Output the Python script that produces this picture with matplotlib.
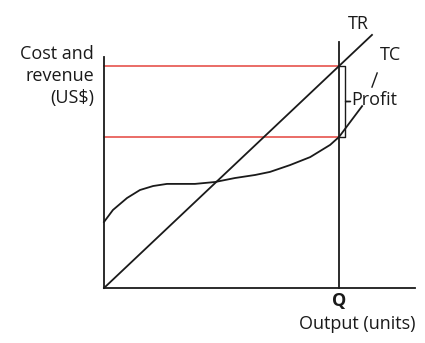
import matplotlib.pyplot as plt

# output (units) and total cost
tc_q = [0.00, 0.38, 0.98, 1.53, 2.09, 2.68, 3.23, 3.87, 4.72, 5.57, 6.43,
        7.06, 7.91, 8.77, 9.62, 10.00, 10.47, 10.98]
tc_cost = [2.81, 3.32, 3.83, 4.17, 4.34, 4.43, 4.43, 4.43, 4.51, 4.68, 4.81,
           4.94, 5.23, 5.57, 6.09, 6.43, 7.06, 7.74]

# total revenue is a straight line from the origin
tr_q = [0.0, 11.4]
tr_rev = [0.0, 10.77]

q_star = 10.0
tr_at_q = 9.45
tc_at_q = 6.43

plt.rcParams['font.family'] = ['Open Sans', 'DejaVu Sans']
ink = '#1a1a1a'
red = '#e8605a'
fs = 13

fig = plt.figure(figsize=(4.25, 3.43), dpi=100)
ax = fig.add_axes([104 / 425, 55 / 343, 311 / 425, 278 / 343])
ax.set_xlim(0, 13.23)
ax.set_ylim(0, 11.83)

for side in ['top', 'right']:
    ax.spines[side].set_visible(False)
ax.spines['left'].set_bounds(0, 9.83)
for side in ['left', 'bottom']:
    ax.spines[side].set_linewidth(1.3)
    ax.spines[side].set_color(ink)
ax.set_xticks([])
ax.set_yticks([])

# profit levels
ax.plot([0, q_star], [tr_at_q, tr_at_q], color=red, lw=1.3, clip_on=False)
ax.plot([0, q_star], [tc_at_q, tc_at_q], color=red, lw=1.3, clip_on=False)

ax.plot(tr_q, tr_rev, color=ink, lw=1.3, clip_on=False)
ax.plot(tc_q, tc_cost, color=ink, lw=1.3, clip_on=False, solid_joinstyle='round')

# vertical at Q
ax.plot([q_star, q_star], [0, 10.47], color=ink, lw=1.3, clip_on=False)

# profit brace
mid = (tr_at_q + tc_at_q) / 2
bx, tip = q_star + 0.26, q_star + 0.47
ax.plot([q_star, bx, bx, tip, bx, bx, q_star],
        [tr_at_q, tr_at_q, mid, mid, mid, tc_at_q, tc_at_q],
        color=ink, lw=1.0, clip_on=False)

ax.text(10.5, mid + 0.05, 'Profit', fontsize=fs, ha='left', va='center', color=ink)
ax.text(12.2, 9.93, 'TC', fontsize=fs, ha='center', va='center', color=ink)
ax.plot([11.4, 11.62], [8.55, 9.15], color=ink, lw=1.0, clip_on=False)
ax.text(10.81, 11.25, 'TR', fontsize=fs, ha='center', va='center', color=ink)

fig.text(94 / 425, 1 - 76 / 343, 'Cost and\nrevenue\n(US$)', fontsize=fs,
         ha='right', va='center', color=ink, linespacing=1.3, multialignment='right')
fig.text(339 / 425, 1 - 301 / 343, 'Q', fontsize=fs, fontweight='bold',
         ha='center', va='center', color=ink)
fig.text(357 / 425, 1 - 324 / 343, 'Output (units)', fontsize=fs,
         ha='center', va='center', color=ink)

fig.savefig('out.png', dpi=100)
